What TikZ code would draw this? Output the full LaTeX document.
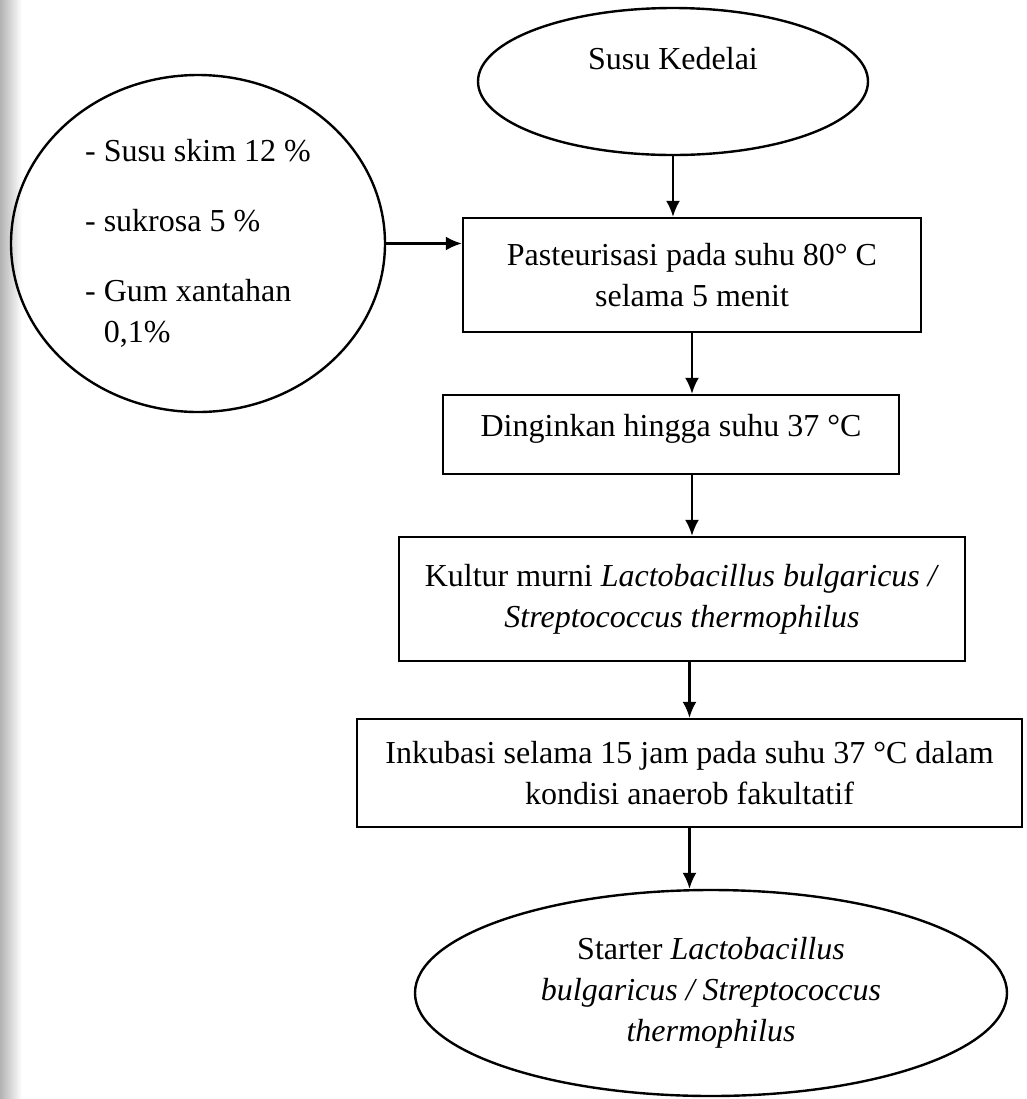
\documentclass[tikz,border=0pt]{standalone}
\usepackage{fontspec}
\setmainfont{Liberation Serif}
\usetikzlibrary{shapes.geometric,arrows.meta}

\begin{document}
\begin{tikzpicture}[x=0.5pt,y=-0.5pt]
    \tikzstyle{every node}=[font=\fontsize{16}{20.5}\selectfont]
    \tikzstyle{kotak}=[draw, rectangle, line width=1.2pt, align=center, inner sep=0pt]
    \tikzstyle{elips}=[draw, ellipse, line width=1.2pt, align=center, inner sep=0pt]
    \tikzstyle{panah}=[-{Latex[length=8pt,width=7pt]}, line width=1.1pt]

    \useasboundingbox (0,0) rectangle (1027,1099);
    \shade[left color=black!30, right color=white] (0,0) rectangle (22,1099);

    \node[elips, minimum width=195pt, minimum height=73.5pt] (susu) at (673,81.5)
    {Susu Kedelai\\[3pt]\mbox{}};

    \node[elips, align=left, minimum width=187pt, minimum height=168.5pt] (bahan) at (198,243.5)
    {- Susu skim 12 \%\\[14.5pt]
    - sukrosa 5 \%\\[14.5pt]
    - Gum xantahan\\
    \hphantom{- }0,1\%};

    \node[kotak, minimum width=229pt, minimum height=57pt] (pas) at (692,275)
    {Pasteurisasi pada suhu 80° C\\ selama 5 menit};

    \node[kotak, minimum width=228pt, minimum height=39.5pt, text depth=9pt] (dingin) at (671,434.5)
    {Dinginkan hingga suhu 37 °C};

    \node[kotak, minimum width=283pt, minimum height=62pt] (kultur) at (682,599)
    {Kultur murni \textit{Lactobacillus bulgaricus /}\\ \textit{Streptococcus thermophilus}};

    \node[kotak, minimum width=332.5pt, minimum height=54pt] (inkub) at (689.5,773)
    {Inkubasi selama 15 jam pada suhu 37 °C dalam\\ kondisi anaerob fakultatif};

    \node[elips, minimum width=296pt, minimum height=103pt] (starter) at (711,993)
    {Starter \textit{Lactobacillus}\\ \textit{bulgaricus / Streptococcus}\\ \textit{thermophilus}};

    \draw[panah] (susu.south) -- (susu.south |- pas.north);
    \draw[panah] (bahan.east) -- (bahan.east -| pas.west);
    \draw[panah] (pas.south) -- (pas.south |- dingin.north);
    \draw[panah] (dingin.south -| pas.south) -- (pas.south |- kultur.north);
    \draw[panah] (kultur.south -| inkub.north) -- (inkub.north);
    \draw[panah] (inkub.south) -- (inkub.south |- starter.north);

\end{tikzpicture}
\end{document}
